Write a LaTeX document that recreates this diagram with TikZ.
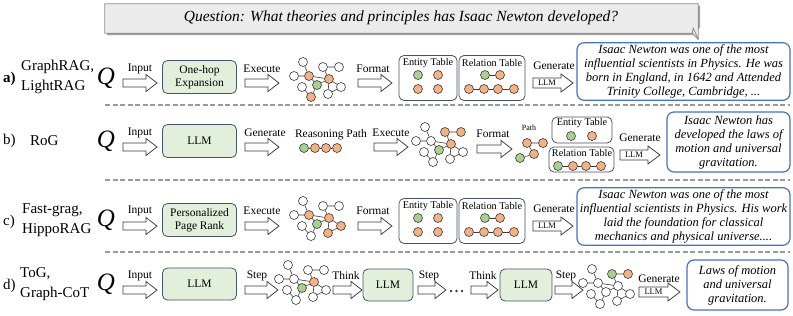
\documentclass[tikz,border=0pt]{standalone}
\usepackage{fontspec}
\setmainfont{Liberation Serif}
\definecolor{orf}{HTML}{F4B183}
\definecolor{grf}{HTML}{A9D18E}
\definecolor{boxg}{HTML}{E2EFDA}
\definecolor{slate}{HTML}{44546A}
\definecolor{ansb}{HTML}{4472C4}
\definecolor{qfill}{HTML}{EBEBEB}
\definecolor{qdraw}{HTML}{8C8C8C}
\definecolor{ink}{HTML}{3A3A3A}
\definecolor{sepc}{HTML}{9A9A9A}
\tikzset{
  lbl/.style={font=\fontsize{11.5}{13}\selectfont, inner sep=0pt},
  rowlbl/.style={font=\fontsize{15}{20}\selectfont, inner sep=0pt, align=left, anchor=west},
  qsym/.style={font=\fontsize{25}{25}\selectfont\itshape, inner sep=0pt},
  procbox/.style={draw=slate, fill=boxg, rounded corners=5pt, line width=0.8pt, minimum width=74pt, minimum height=33pt, align=center, font=\fontsize{11.5}{13}\selectfont, inner sep=1pt},
  arrbody/.style={draw=ink, fill=white, line width=0.75pt, line join=miter},
  tbl/.style={draw=slate, fill=white, rounded corners=5pt, line width=0.8pt},
  tt/.style={font=\fontsize{10.3}{11}\selectfont, inner sep=0pt},
  gn/.style={circle, draw=ink, fill=white, line width=0.6pt, minimum size=9pt, inner sep=0pt},
  ornode/.style={gn, fill=orf},
  grnode/.style={gn, fill=grf},
  ge/.style={draw=ink, line width=0.6pt},
  ans/.style={draw=ansb, line width=1.2pt, rounded corners=7pt, fill=white, align=center, font=\fontsize{12.5}{14}\selectfont\itshape, inner sep=2pt},
  sep/.style={draw=sepc, line width=2pt, dash pattern=on 5pt off 2.5pt},
}
% hollow block arrow: name, x0, y, length
\newcommand\blockarr[4]{%
  \coordinate (#1) at (#2,#3);
  \draw[arrbody] (#1) ++(0,-4) -- ++(#4-11,0) -- ++(0,-4.5) -- ++(11,8.5) -- ++(-11,8.5) -- ++(0,-4.5) -- ++(-#4+11,0) -- cycle;}
% block arrow with LLM inside: name, x0, y, length
\newcommand\llmarr[4]{%
  \coordinate (#1) at (#2,#3);
  \draw[arrbody] (#1) ++(0,-5) -- ++(#4-12,0) -- ++(0,-4) -- ++(12,9) -- ++(-12,9) -- ++(0,-4) -- ++(-#4+12,0) -- cycle;
  \node[font=\fontsize{8.5}{9}\selectfont, inner sep=0pt] (#1t) at ({#2+(#4-12)/2},#3) {LLM};}
\newcommand\kgraph[3]{%
 \begin{scope}[shift={#1}, kA/.style={}, kP1/.style={}, kP2/.style={}, kL/.style={}, kM/.style={}, kH/.style={}, kG/.style={}, kR/.style={}, kB1/.style={}, kB2/.style={}, kB3/.style={}, #3]
 \node[gn,kA] (#2A) at (-15,-18) {};
 \node[gn,kP1] (#2P1) at (5,-13) {};
 \node[gn,kP2] (#2P2) at (21,-13) {};
 \node[gn,kL] (#2L) at (-24,-4) {};
 \node[gn,kM] (#2M) at (-9,-4) {};
 \node[gn,kH] (#2H) at (11,-1) {};
 \node[gn,kG] (#2G) at (-1,5) {};
 \node[gn,kR] (#2R) at (23,7) {};
 \node[gn,kB1] (#2B1) at (-16,7) {};
 \node[gn,kB2] (#2B2) at (10,14) {};
 \node[gn,kB3] (#2B3) at (-7,17) {};
 \draw[ge] (#2A)--(#2M) (#2L)--(#2M) (#2M)--(#2H) (#2P1)--(#2P2) (#2P1)--(#2H) (#2M)--(#2G) (#2G)--(#2H) (#2H)--(#2R) (#2H)--(#2B2) (#2B2)--(#2R) (#2B1)--(#2B3) (#2B3)--(#2G);
 \end{scope}}
\begin{document}
\begin{tikzpicture}[x=1pt,y=-1pt]
\useasboundingbox (0,0) rectangle (793,316);
% question box
\node[minimum width=593pt, minimum height=29pt, inner sep=0pt] (qbox) at (401.5,18.5) {};
\fill[gray!75] ([shift={(2,2)}]qbox.north west) -- ([shift={(2,2)}]qbox.north east) -- ([shift={(2,-6)}]qbox.south east) -- ([shift={(-4,2)}]qbox.south east) -- ([shift={(2,2)}]qbox.south west) -- cycle;
\draw[qdraw, fill=qfill, line width=0.8pt] (qbox.north west) -- (qbox.north east) -- ([yshift=-6pt]qbox.south east) -- ([xshift=-6pt]qbox.south east) -- (qbox.south west) -- cycle;
\draw[qdraw, line width=0.8pt] ([yshift=-6pt]qbox.south east) -- ([shift={(-5,-5)}]qbox.south east) -- ([xshift=-6pt]qbox.south east);
\node[font=\fontsize{15.5}{18}\selectfont\itshape, inner sep=0pt] (qtext) at (401,18) {Question: What theories and principles has Isaac Newton developed?};
% separators
\draw[sep] (105,105) -- (790,105);
\draw[sep] (105,180) -- (790,180);
\draw[sep] (105,252) -- (790,252);

% ---------------- row a
\node[rowlbl, font=\fontsize{15}{20}\selectfont\bfseries] (a-id) at (3,79) {a)};
\node[rowlbl] (a-name) at (21,77) {GraphRAG,\\LightRAG};
\node[qsym] (a-q) at (106,78) {Q};
\blockarr{a-in}{123}{83}{34}
\node[lbl] (a-inl) at (140,69) {Input};
\node[procbox] (a-box) at (199.5,77) {One-hop\\Expansion};
\blockarr{a-ex}{245}{83}{34}
\node[lbl] (a-exl) at (262,69) {Execute};
\kgraph{(318,80)}{ga}{kM/.style={fill=orf}, kH/.style={fill=orf}, kG/.style={fill=grf}, kB3/.style={fill=orf}}
\blockarr{a-fm}{358}{83}{34}
\node[lbl] (a-fml) at (373,69) {Format};
\node[tbl, minimum width=58pt, minimum height=45pt] (a-et) at (428,78) {};
\node[tt] (a-ett) at (428,63) {Entity Table};
\node[grnode] (a-e1) at (418,75) {};
\node[ornode] (a-e2) at (438,75) {};
\node[ornode] (a-e3) at (418,89) {};
\node[ornode] (a-e4) at (438,89) {};
\node[tbl, minimum width=66pt, minimum height=45pt] (a-rt) at (492,78) {};
\node[tt] (a-rtt) at (492,63) {Relation Table};
\node[grnode] (a-r1) at (485,75) {};
\node[ornode] (a-r2) at (500,75) {};
\node[ornode] (a-r3) at (469,89) {};
\node[ornode] (a-r4) at (484,89) {};
\node[ornode] (a-r5) at (498,89) {};
\node[ornode] (a-r6) at (514,89) {};
\draw[ge] (a-r1)--(a-r2) (a-r3)--(a-r4) (a-r4)--(a-r5) (a-r5)--(a-r6);
\llmarr{a-gen}{533}{83}{40}
\node[lbl] (a-genl) at (554,66) {Generate};
\node[ans, minimum width=213pt, minimum height=57pt] (a-ans) at (683.5,71.5) {Isaac Newton was one of the most\\influential scientists in Physics. He was\\born in England, in 1642 and Attended\\Trinity College, Cambridge, ...};

% ---------------- row b
\node[rowlbl] (b-id) at (3,141) {b)};
\node[rowlbl] (b-name) at (30,141) {RoG};
\node[qsym] (b-q) at (106,141) {Q};
\blockarr{b-in}{123}{147}{34}
\node[lbl] (b-inl) at (140,133) {Input};
\node[procbox] (b-box) at (199.5,141) {LLM};
\blockarr{b-gn}{245}{147}{34}
\node[lbl] (b-gnl) at (265,133) {Generate};
\node[lbl] (b-rp) at (331,135) {Reasoning Path};
\node[grnode] (b-p1) at (304,148) {};
\node[ornode] (b-p2) at (315,148) {};
\node[ornode] (b-p3) at (326,148) {};
\node[ornode] (b-p4) at (337,148) {};
\draw[ge] (b-p1)--(b-p2) (b-p2)--(b-p3) (b-p3)--(b-p4);
\blockarr{b-ex}{374}{147}{34}
\node[lbl] (b-exl) at (391,133) {Execute};
\kgraph{(440,145)}{gb}{kP1/.style={fill=orf}, kP2/.style={fill=orf}, kH/.style={fill=orf}, kG/.style={fill=grf}}
\blockarr{b-fm}{477}{149}{35}
\node[lbl] (b-fml) at (493,134) {Format};
\node[font=\fontsize{8}{8}\selectfont, inner sep=0pt] (b-pl) at (529,128) {Path};
\node[ornode] (b-q1) at (527,143) {};
\node[ornode] (b-q2) at (543,143) {};
\node[ornode] (b-q3) at (534,154) {};
\node[grnode] (b-q4) at (520,158) {};
\draw[ge] (b-q1)--(b-q2) (b-q1)--(b-q3) (b-q3)--(b-q4);
\node[tbl, minimum width=60pt, minimum height=26pt] (b-et) at (582,130) {};
\node[tt] (b-ett) at (582,123) {Entity Table};
\node[grnode] (b-e1) at (571,136) {};
\node[ornode] (b-e2) at (592,136) {};
\node[tbl, minimum width=65pt, minimum height=25pt] (b-rt) at (581.5,159.5) {};
\node[tt] (b-rtt) at (582,153) {Relation Table};
\node[grnode] (b-r1) at (558,166) {};
\node[ornode] (b-r2) at (573,166) {};
\node[ornode] (b-r3) at (586,166) {};
\node[ornode] (b-r4) at (601,166) {};
\draw[ge] (b-r1)--(b-r2) (b-r2)--(b-r3) (b-r3)--(b-r4);
\llmarr{b-gen}{620}{155}{40}
\node[lbl] (b-genl) at (640,138) {Generate};
\node[ans, minimum width=123pt, minimum height=60pt] (b-ans) at (728.5,142) {Isaac Newton has\\developed the laws of\\motion and universal\\gravitation.};

% ---------------- row c
\node[rowlbl] (c-id) at (3,222) {c)};
\node[rowlbl] (c-name) at (22,220) {Fast-grag,\\HippoRAG};
\node[qsym] (c-q) at (106,220) {Q};
\blockarr{c-in}{123}{226}{34}
\node[lbl] (c-inl) at (140,211) {Input};
\node[procbox] (c-box) at (199.5,220) {Personalized\\Page Rank};
\blockarr{c-ex}{245}{226}{34}
\node[lbl] (c-exl) at (262,211) {Execute};
\kgraph{(318,219)}{gc}{kM/.style={fill=orf}, kH/.style={fill=orf}, kG/.style={fill=grf}, kR/.style={fill=orf}, kB2/.style={fill=orf}}
\blockarr{c-fm}{358}{226}{34}
\node[lbl] (c-fml) at (373,211) {Format};
\node[tbl, minimum width=58pt, minimum height=45pt] (c-et) at (428,221) {};
\node[tt] (c-ett) at (428,206) {Entity Table};
\node[grnode] (c-e1) at (418,218) {};
\node[ornode] (c-e2) at (438,218) {};
\node[ornode] (c-e3) at (418,232) {};
\node[ornode] (c-e4) at (438,232) {};
\node[tbl, minimum width=66pt, minimum height=45pt] (c-rt) at (492,221) {};
\node[tt] (c-rtt) at (492,206) {Relation Table};
\node[grnode] (c-r1) at (485,218) {};
\node[ornode] (c-r2) at (500,218) {};
\node[ornode] (c-r3) at (469,232) {};
\node[ornode] (c-r4) at (484,232) {};
\node[ornode] (c-r5) at (498,232) {};
\node[ornode] (c-r6) at (514,232) {};
\draw[ge] (c-r1)--(c-r2) (c-r3)--(c-r4) (c-r4)--(c-r5) (c-r5)--(c-r6);
\llmarr{c-gen}{533}{226}{40}
\node[lbl] (c-genl) at (554,209) {Generate};
\node[ans, minimum width=213pt, minimum height=57pt] (c-ans) at (683.5,216.5) {Isaac Newton was one of the most\\influential scientists in Physics. His work\\laid the foundation for classical\\mechanics and physical universe....};

% ---------------- row d
\node[rowlbl] (d-id) at (3,286) {d)};
\node[rowlbl] (d-name) at (20,284) {ToG,\\Graph-CoT};
\node[qsym] (d-q) at (106,284) {Q};
\blockarr{d-in}{123}{290}{34}
\node[lbl] (d-inl) at (140,276) {Input};
\node[procbox, minimum height=32pt] (d-box1) at (199.5,284) {LLM};
\blockarr{d-st1}{245}{290}{33}
\node[lbl] (d-st1l) at (257,276) {Step};
\kgraph{(303,283)}{gd}{kH/.style={fill=orf}, kG/.style={fill=grf}}
\blockarr{d-th1}{333}{290}{29}
\node[lbl] (d-th1l) at (346,276) {Think};
\node[procbox, minimum width=50pt, minimum height=32pt] (d-box2) at (388,285) {LLM};
\blockarr{d-st2}{418}{290}{28}
\node[lbl] (d-st2l) at (429,276) {Step};
\fill[ink] (451,291) circle (1.4) (456.5,291) circle (1.4) (462,291) circle (1.4);
\blockarr{d-th2}{471}{290}{27}
\node[lbl] (d-th2l) at (483,276) {Think};
\node[procbox, minimum width=52pt, minimum height=32pt] (d-box3) at (526,285) {LLM};
\blockarr{d-st3}{555}{290}{28}
\node[lbl] (d-st3l) at (566,276) {Step};
\kgraph{(607,287)}{ge}{kP1/.style={fill=grf}, kP2/.style={fill=orf}}
\llmarr{d-gen}{639}{292}{41}
\node[lbl] (d-genl) at (659,279) {Generate};
\node[ans, minimum width=101pt, minimum height=50pt] (d-ans) at (737.5,285) {Laws of motion\\and universal\\gravitation.};
\end{tikzpicture}
\end{document}
